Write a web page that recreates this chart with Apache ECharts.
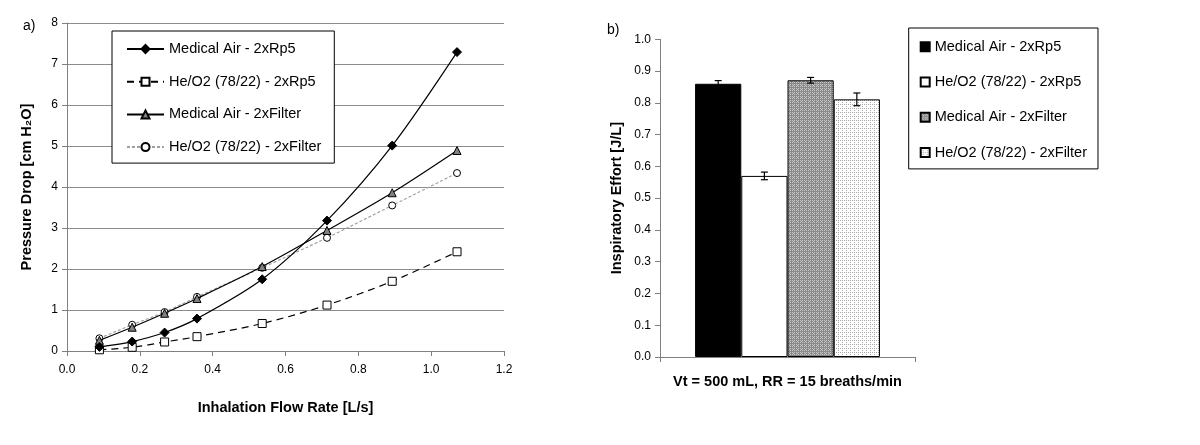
<!DOCTYPE html>
<html>
<head>
<meta charset="utf-8">
<script src="https://cdn.jsdelivr.net/npm/echarts@6/dist/echarts.min.js"></script>
<style>html,body{margin:0;padding:0;background:#fff}#c{width:1200px;height:445px}</style>
</head>
<body>
<div id="c"></div>
<script>
// ---- data: panel a) ----
const flowRates = [0.089, 0.179, 0.268, 0.357, 0.536, 0.714, 0.893, 1.071];
const airRp5 = [0.10, 0.23, 0.45, 0.79, 1.75, 3.18, 5.01, 7.29];
const heoxRp5 = [0.03, 0.09, 0.22, 0.35, 0.67, 1.12, 1.70, 2.42];
const airFilter = [0.26, 0.58, 0.92, 1.28, 2.06, 2.94, 3.86, 4.89];
const heoxFilter = [0.31, 0.64, 0.95, 1.32, 2.03, 2.76, 3.55, 4.34];
const lineNames = ['Medical Air - 2xRp5', 'He/O2 (78/22) - 2xRp5', 'Medical Air - 2xFilter', 'He/O2 (78/22) - 2xFilter'];
// ---- data: panel b) ----
const effortCategory = ['Vt = 500 mL, RR = 15 breaths/min'];
const barNames = ['Medical Air - 2xRp5', 'He/O2 (78/22) - 2xRp5', 'Medical Air - 2xFilter', 'He/O2 (78/22) - 2xFilter'];
const effortValues = [0.86, 0.57, 0.871, 0.811];
const effortErrors = [0.010, 0.012, 0.009, 0.020];

const FONT = "'Liberation Sans', Arial, sans-serif";
const BAR_PREFIX = '\u200b';

function makePattern(size, bg, fg, pts) {
  const cv = document.createElement('canvas');
  cv.width = size; cv.height = size;
  const ctx = cv.getContext('2d');
  ctx.fillStyle = bg; ctx.fillRect(0, 0, size, size);
  ctx.fillStyle = fg;
  pts.forEach(p => ctx.fillRect(p[0], p[1], 1, 1));
  return cv;
}
const grayPattern = makePattern(4, '#8a8a8a', '#c8c8c8', [[0,0],[2,0],[1,1],[0,2],[2,2],[3,3],[1,3],[3,1]].slice(0,5));
const dotPattern = makePattern(4, '#ffffff', '#a8a8a8', [[0,0],[2,2],[2,0]]);

const lineSeriesData = [airRp5, heoxRp5, airFilter, heoxFilter];
const lineStyles = [
  { color: '#000', width: 1.2, type: 'solid' },
  { color: '#000', width: 1.2, type: [7, 5] },
  { color: '#000', width: 1.2, type: 'solid' },
  { color: '#a0a0a0', width: 1.2, type: [3, 2] }
];
const symbols = ['diamond', 'rect', 'triangle', 'circle'];
const symbolSizes = [9, 8, 8, 7];
const symbolFills = ['#000', '#fff', '#808080', '#fff'];

const series = [];
lineNames.forEach((n, i) => {
  series.push({
    type: 'line', name: n, xAxisIndex: 0, yAxisIndex: 0,
    data: flowRates.map((x, k) => [x, lineSeriesData[i][k]]),
    smooth: 0.3,
    symbol: symbols[i], symbolSize: symbolSizes[i],
    lineStyle: lineStyles[i],
    itemStyle: { color: symbolFills[i], borderColor: '#000', borderWidth: 1 },
    z: 10 - i
  });
});
const barColors = ['#000', '#fff', { image: grayPattern, repeat: 'repeat' }, { image: dotPattern, repeat: 'repeat' }];
barNames.forEach((n, i) => {
  series.push({
    type: 'bar', name: BAR_PREFIX + n, xAxisIndex: 1, yAxisIndex: 1,
    data: [effortValues[i]],
    barGap: '0%', barCategoryGap: '27.5%',
    itemStyle: { color: barColors[i], borderColor: '#000', borderWidth: 1 }
  });
});
series.push({
  type: 'custom', xAxisIndex: 1, yAxisIndex: 1, z: 20,
  data: effortValues.map((v, i) => [0, v, effortErrors[i], i]),
  encode: { x: 0, y: 1 },
  renderItem: function (params, api) {
    const idx = api.value(3), v = api.value(1), e = api.value(2);
    const band = api.size([1, 0])[0];
    const bw = band * (1 - 0.275) / 4;
    const c = api.coord([0, v]);
    const x = c[0] + (idx - 1.5) * bw;
    const yHi = api.coord([0, v + e])[1];
    const yLo = api.coord([0, v - e])[1];
    const w = 3.5;
    const st = { stroke: '#000', lineWidth: 1.2, fill: null };
    return { type: 'group', children: [
      { type: 'line', shape: { x1: x, y1: yHi, x2: x, y2: yLo }, style: st },
      { type: 'line', shape: { x1: x - w, y1: yHi, x2: x + w, y2: yHi }, style: st },
      { type: 'line', shape: { x1: x - w, y1: yLo, x2: x + w, y2: yLo }, style: st }
    ]};
  }
});

const axisLine = { show: true, lineStyle: { color: '#808080', width: 1 } };
const tickStyle = { show: true, length: 5, lineStyle: { color: '#808080' } };
const labelStyle = { color: '#000', fontSize: 12, fontFamily: FONT };
const nameStyle = { color: '#000', fontSize: 14.5, fontWeight: 'bold', fontFamily: FONT };

const option = {
  animation: false,
  backgroundColor: '#fff',
  textStyle: { fontFamily: FONT },
  grid: [
    { left: 67, right: 696, top: 23, bottom: 94 },
    { left: 660, right: 285, top: 39.3, bottom: 88 }
  ],
  xAxis: [
    { type: 'value', gridIndex: 0, min: 0, max: 1.2, interval: 0.2,
      axisLine: axisLine, axisTick: tickStyle, splitLine: { show: false },
      axisLabel: Object.assign({ margin: 13, formatter: v => v.toFixed(1) }, labelStyle),
      name: 'Inhalation Flow Rate [L/s]', nameLocation: 'middle', nameGap: 49, nameTextStyle: nameStyle },
    { type: 'category', gridIndex: 1, data: effortCategory,
      axisLine: axisLine, axisTick: { show: true, length: 5, lineStyle: { color: '#808080' } },
      axisLabel: { margin: 17, color: '#000', fontSize: 14.5, fontWeight: 'bold', fontFamily: FONT } }
  ],
  yAxis: [
    { type: 'value', gridIndex: 0, min: 0, max: 8, interval: 1,
      axisLine: axisLine, axisTick: tickStyle,
      splitLine: { show: true, lineStyle: { color: '#8c8c8c', width: 1 } },
      axisLabel: Object.assign({ margin: 9 }, labelStyle),
      name: 'Pressure Drop [cm H\u2082O]', nameLocation: 'middle', nameGap: 33, nameTextStyle: nameStyle },
    { type: 'value', gridIndex: 1, min: 0, max: 1, interval: 0.1,
      axisLine: axisLine, axisTick: tickStyle, splitLine: { show: false },
      axisLabel: Object.assign({ margin: 9, formatter: v => v.toFixed(1) }, labelStyle),
      name: 'Inspiratory Effort [J/L]', nameLocation: 'middle', nameGap: 36, nameTextStyle: nameStyle }
  ],
  legend: [
    { data: lineNames, orient: 'vertical', left: 112, top: 31,
      padding: [10, 13, 8, 14], itemGap: 16.7, itemWidth: 37, itemHeight: 10,
      borderColor: '#000', borderWidth: 1, backgroundColor: '#fff',
      textStyle: { color: '#000', fontSize: 14.5, fontFamily: FONT, lineHeight: 16 },
      selectedMode: false },
    { data: barNames.map(n => BAR_PREFIX + n), orient: 'vertical', left: 908.7, top: 28,
      padding: [10.7, 11, 8.3, 11], itemGap: 19.3, itemWidth: 9, itemHeight: 9, icon: 'rect',
      borderColor: '#000', borderWidth: 1, backgroundColor: '#fff',
      formatter: n => n.replace(BAR_PREFIX, ''),
      textStyle: { color: '#000', fontSize: 14.5, fontFamily: FONT, lineHeight: 16 },
      selectedMode: false }
  ],
  graphic: [
    { type: 'text', left: 23, top: 19, style: { text: 'a)', fontSize: 14, fontFamily: FONT, fill: '#000' } },
    { type: 'text', left: 607, top: 23, style: { text: 'b)', fontSize: 14, fontFamily: FONT, fill: '#000' } }
  ],
  series: series
};
const chart = echarts.init(document.getElementById('c'), null, { renderer: 'canvas' });
chart.setOption(option);
</script>
</body>
</html>
